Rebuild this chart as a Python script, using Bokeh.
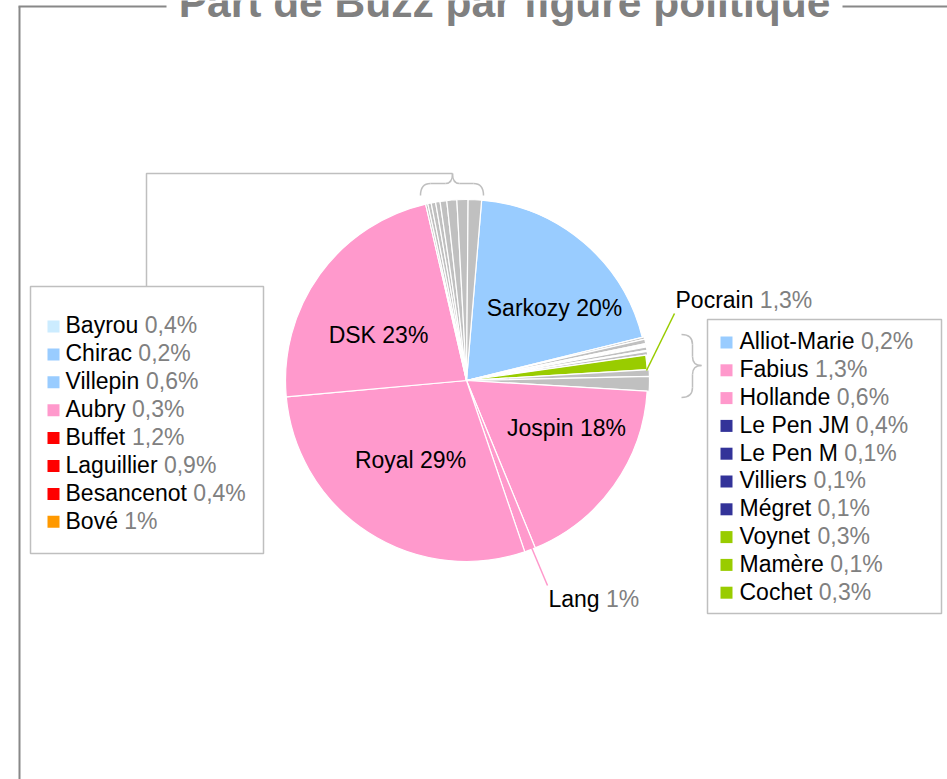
import math
from bokeh.plotting import figure
from bokeh.models import Range1d, ColumnDataSource
from bokeh.core.properties import value
from bokeh.embed import file_html
from bokeh.resources import INLINE

# ---------------- data ----------------
title_text = "Part de Buzz par figure politique"

# pie slices, clockwise from Sarkozy
pie_names = ["Sarkozy", "Alliot-Marie", "Le Pen JM", "Le Pen M", "Villiers", "Mégret",
             "Voynet", "Mamère", "Cochet", "Pocrain", "Hollande", "Fabius",
             "Jospin", "Lang", "Royal", "DSK",
             "Chirac", "Aubry", "Bayrou", "Besancenot", "Villepin", "Laguillier", "Bové", "Buffet"]
pie_values = [20, 0.2, 0.4, 0.1, 0.1, 0.1, 0.3, 0.1, 0.3, 1.3, 0.6, 1.3,
              18, 1, 29, 23,
              0.2, 0.3, 0.4, 0.4, 0.6, 0.9, 1, 1.2]
pie_colors = ["#99CCFF"] + ["#C0C0C0"] * 8 + ["#99CC00"] + ["#C0C0C0"] * 2 + \
             ["#FF99CC"] * 4 + ["#C0C0C0"] * 8

# left legend (grouped top slices)
left_names = ["Bayrou", "Chirac", "Villepin", "Aubry", "Buffet", "Laguillier", "Besancenot", "Bové"]
left_values = ["0,4%", "0,2%", "0,6%", "0,3%", "1,2%", "0,9%", "0,4%", "1%"]
left_colors = ["#CCECFF", "#99CCFF", "#99CCFF", "#FF99CC", "#FF0000", "#FF0000", "#FF0000", "#FF9900"]

# right legend (grouped right slices)
right_names = ["Alliot-Marie", "Fabius", "Hollande", "Le Pen JM", "Le Pen M", "Villiers",
               "Mégret", "Voynet", "Mamère", "Cochet"]
right_values = ["0,2%", "1,3%", "0,6%", "0,4%", "0,1%", "0,1%", "0,1%", "0,3%", "0,1%", "0,3%"]
right_colors = ["#99CCFF", "#FF99CC", "#FF99CC", "#333399", "#333399", "#333399",
                "#333399", "#99CC00", "#99CC00", "#99CC00"]

# inside labels
inner_labels = ["Sarkozy 20%", "DSK 23%", "Jospin 18%", "Royal 29%"]
# outside labels (name, value)
outer_names = ["Pocrain", "Lang"]
outer_values = ["1,3%", "1%"]

# ---------------- helpers ----------------
AW = {' ': 278, '!': 278, '%': 889, ',': 278, '-': 333, '.': 278,
      'A': 667, 'B': 667, 'C': 722, 'D': 722, 'E': 667, 'F': 611, 'G': 778, 'H': 722, 'I': 278,
      'J': 500, 'K': 667, 'L': 556, 'M': 833, 'N': 722, 'O': 778, 'P': 667, 'Q': 778, 'R': 722,
      'S': 667, 'T': 611, 'U': 722, 'V': 667, 'W': 944, 'X': 667, 'Y': 667, 'Z': 611,
      'a': 556, 'b': 556, 'c': 500, 'd': 556, 'e': 556, 'f': 278, 'g': 556, 'h': 556, 'i': 222,
      'j': 222, 'k': 500, 'l': 222, 'm': 833, 'n': 556, 'o': 556, 'p': 556, 'q': 556, 'r': 333,
      's': 500, 't': 278, 'u': 556, 'v': 500, 'w': 722, 'x': 500, 'y': 500, 'z': 500,
      'é': 556, 'è': 556}


def tw(s, size):
    return sum(AW.get(ch, 556) for ch in s) * size / 1000.0


FONT = value("Liberation Sans")
FS = 23
GREY_TXT = "#808080"
SHIFT = 0.37  # em correction between intended baseline and rendered baseline

W, H = 947, 779
p = figure(width=W, height=H, x_range=Range1d(0, W), y_range=Range1d(-H, 0),
           output_backend="svg", toolbar_location=None, x_axis_type=None, y_axis_type=None,
           min_border=0)
p.outline_line_color = None
p.grid.visible = False
p.background_fill_color = "white"
p.border_fill_color = "white"

def Y(v):
    return -v

def TY(baseline, size=FS):
    return -(baseline - SHIFT * size)

# ---------------- frame ----------------
frame_col = "#888888"
p.line([19, 19], [Y(6), Y(800)], line_color=frame_col, line_width=2)
p.line([18, 166], [Y(6), Y(6)], line_color=frame_col, line_width=2)
p.line([842, 960], [Y(6), Y(6)], line_color=frame_col, line_width=2)
p.text(x=[504], y=[TY(18, 42.5)], text=[title_text], text_font=FONT, text_font_size="42.5px",
       text_font_style="bold", text_color=GREY_TXT, text_align="center", text_baseline="alphabetic")

# ---------------- pie ----------------
cx, cy, R = 466, 380, 181
start_deg = 4.8
total = sum(pie_values)
starts, ends = [], []
acc = 0.0
for v in pie_values:
    a0 = start_deg + acc / total * 360.0
    acc += v
    a1 = start_deg + acc / total * 360.0
    starts.append(math.radians(90 - a0))
    ends.append(math.radians(90 - a1))
radii = [R + (2 if (c == "#C0C0C0" and 1 <= i <= 11) else 0) for i, c in enumerate(pie_colors)]
src = ColumnDataSource(dict(x=[cx] * len(pie_values), y=[Y(cy)] * len(pie_values), r=radii,
                            s=starts, e=ends, c=pie_colors, name=pie_names))
p.wedge(x="x", y="y", radius="r", start_angle="s", end_angle="e", direction="clock",
        fill_color="c", line_color="white", line_width=1.2, source=src)

# inner labels
p.text(x=[554, 378, 566, 410], y=[TY(316), TY(343), TY(436), TY(468)], text=inner_labels,
       text_font=FONT, text_font_size=f"{FS}px", text_color="black", text_align="center",
       text_baseline="alphabetic")

# outer labels with leader lines
p.line([646, 674], [Y(370), Y(313)], line_color="#99CC00", line_width=1.5)
p.line([531, 547], [Y(547), Y(585)], line_color="#FF99CC", line_width=1.5)
ox = [675, 548]
oy = [308, 607]
p.text(x=ox, y=[TY(v) for v in oy], text=outer_names, text_font=FONT, text_font_size=f"{FS}px",
       text_color="black", text_baseline="alphabetic")
p.text(x=[x + tw(n + " ", FS) for x, n in zip(ox, outer_names)], y=[TY(v) for v in oy],
       text=outer_values, text_font=FONT, text_font_size=f"{FS}px", text_color=GREY_TXT,
       text_baseline="alphabetic")

# ---------------- connectors / braces ----------------
bc = "#BFBFBF"
p.line([146, 146, 452], [Y(286), Y(173), Y(173)], line_color=bc, line_width=1.5)
# top brace
p.quadratic(x0=[420, 445, 452, 473], y0=[Y(195), Y(183), Y(173), Y(183)],
            x1=[430, 452, 459, 483], y1=[Y(183), Y(173), Y(183), Y(195)],
            cx=[420, 452, 452, 483], cy=[Y(183), Y(183), Y(183), Y(183)],
            line_color=bc, line_width=1.5)
p.line([430, 445], [Y(183), Y(183)], line_color=bc, line_width=1.5)
p.line([459, 473], [Y(183), Y(183)], line_color=bc, line_width=1.5)
# right brace
p.quadratic(x0=[681, 692, 701, 692], y0=[Y(334), Y(356), Y(365), Y(387)],
            x1=[692, 701, 692, 681], y1=[Y(344), Y(365), Y(374), Y(397)],
            cx=[692, 692, 692, 692], cy=[Y(334), Y(365), Y(365), Y(397)],
            line_color=bc, line_width=1.5)
p.line([692, 692], [Y(344), Y(356)], line_color=bc, line_width=1.5)
p.line([692, 692], [Y(374), Y(387)], line_color=bc, line_width=1.5)

# ---------------- legends ----------------
def legend_box(x0, y0, x1, y1, names, vals, cols, sq_x, txt_x, row0, step):
    p.quad(left=[x0], right=[x1], top=[Y(y0)], bottom=[Y(y1)], fill_color="white",
           line_color=bc, line_width=1.5)
    ys = [row0 + i * step for i in range(len(names))]
    p.rect(x=[sq_x] * len(names), y=[Y(v) for v in ys], width=12, height=12,
           fill_color=cols, line_color=None)
    p.text(x=[txt_x] * len(names), y=[TY(v + 7.5) for v in ys], text=names, text_font=FONT,
           text_font_size=f"{FS}px", text_color="black", text_baseline="alphabetic")
    p.text(x=[txt_x + tw(n + " ", FS) for n in names], y=[TY(v + 7.5) for v in ys], text=vals,
           text_font=FONT, text_font_size=f"{FS}px", text_color=GREY_TXT,
           text_baseline="alphabetic")

legend_box(30, 286, 263, 553, left_names, left_values, left_colors, 53, 65, 326, 27.9)
legend_box(707, 319, 941, 613, right_names, right_values, right_colors, 726, 739, 342, 27.8)

open("out.html", "w").write(file_html(p, INLINE))
